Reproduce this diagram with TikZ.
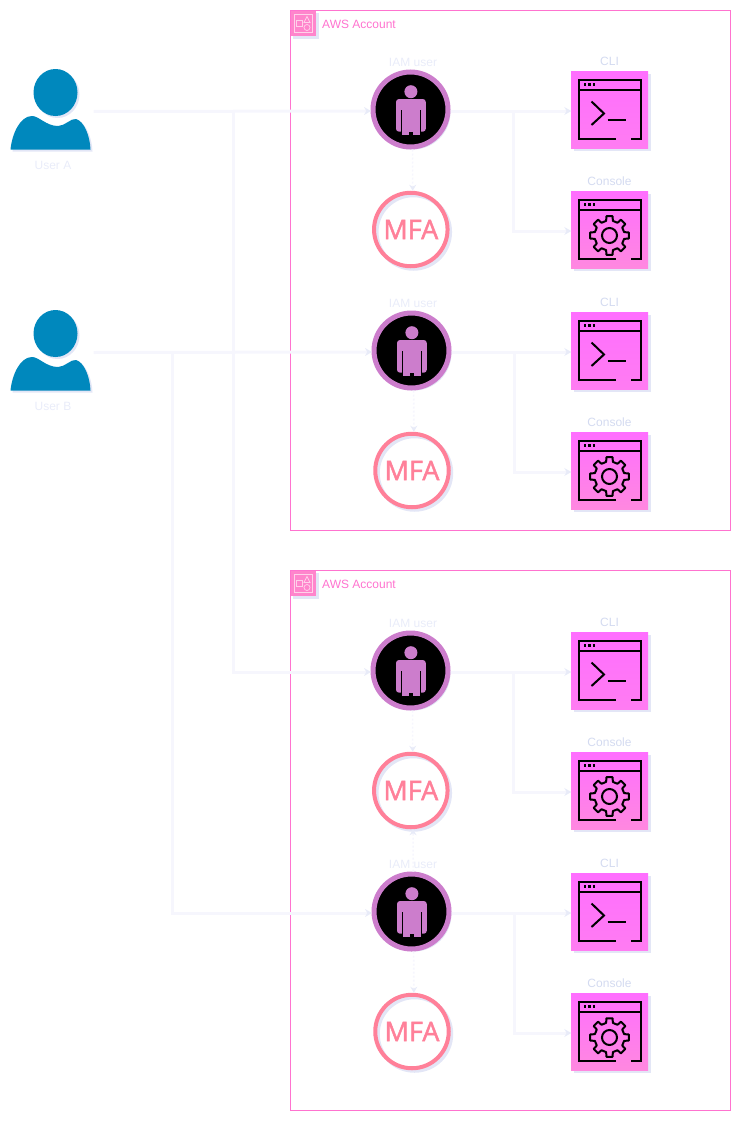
\documentclass[tikz,border=0pt]{standalone}
\usepackage{fontspec}
\setmainfont{Liberation Sans}
\newfontfamily\mfafont[FakeBold=1.8]{Open Sans}
\usetikzlibrary{arrows.meta,shadows}
\definecolor{accountpink}{HTML}{FF73CF}
\definecolor{tagpink}{HTML}{FF85CC}
\definecolor{tagline}{HTML}{FFD2EA}
\definecolor{boxpink}{HTML}{FF6EFF}
\definecolor{boxpinkcli}{HTML}{FF7CF2}
\definecolor{boxpinkcon}{HTML}{FF88E0}
\definecolor{iamring}{HTML}{CC7DCC}
\definecolor{mfapink}{HTML}{FF8099}
\definecolor{userblue}{HTML}{0088BD}
\definecolor{shadowblue}{HTML}{E3E6F6}
\definecolor{linepale}{HTML}{F6F6FD}
\definecolor{tippale}{HTML}{E8EBF8}
\definecolor{labelpale}{HTML}{D3DAF0}
\definecolor{haze}{HTML}{E9ECF9}

\begin{document}
\begin{tikzpicture}[x=1pt, y=-1pt]
    \tikzstyle{softshadow} = [drop shadow={shadow xshift=2.5pt, shadow yshift=-2.5pt, fill=shadowblue, opacity=1}]
    \tikzstyle{account} = [draw=accountpink, line width=1pt, rectangle, anchor=north west, inner sep=0pt, outer sep=0pt]
    \tikzstyle{tag} = [fill=tagpink, rectangle, minimum size=25.5pt, inner sep=0pt, outer sep=0pt, anchor=north west, softshadow]
    \tikzstyle{title} = [text=accountpink, font=\fontsize{12}{12}\selectfont, inner sep=0pt, anchor=west]
    \tikzstyle{usernode} = [rectangle, minimum width=84pt, minimum height=84pt, inner sep=0pt]
    \tikzstyle{iam} = [circle, draw=iamring, line width=5pt, fill=black, minimum size=75pt, inner sep=0pt, softshadow]
    \tikzstyle{mfa} = [circle, draw=mfapink, line width=4pt, minimum size=73.5pt, inner sep=0pt,
        preaction={draw=shadowblue, transform canvas={xshift=2.5pt, yshift=-2.5pt}},
        text=mfapink, font=\mfafont\fontsize{27}{27}\selectfont]
    \tikzstyle{clibox} = [rectangle, minimum size=77pt, inner sep=0pt, top color=boxpink, bottom color=boxpinkcli, softshadow]
    \tikzstyle{conbox} = [rectangle, minimum size=77pt, inner sep=0pt, top color=boxpink, bottom color=boxpinkcon, softshadow]
    \tikzstyle{label} = [text=labelpale, font=\fontsize{12}{12}\selectfont, inner sep=0pt]
    \tikzstyle{faint} = [text=haze, font=\fontsize{12}{12}\selectfont, inner sep=0pt]
    \tikzstyle{arrow} = [linepale, line width=3pt, -{Stealth[length=7pt,width=8pt,color=tippale]},
        transform canvas={xshift=0.5pt, yshift=-1.5pt}]
    \tikzstyle{mfaarrow} = [linepale, line width=1.6pt, dash pattern=on 2pt off 2pt, -{Stealth[length=6pt,width=7pt,color=tippale]},
        transform canvas={xshift=2pt}]
    \tikzset{
        pics/usericon/.style={code={
            \fill [shadowblue, shift={(2,2)}] (-40.5,39.5) .. controls (-39,24) and (-31,6) .. (-19,6)
                .. controls (-12,6) and (-5,16) .. (7,16)
                .. controls (14,16) and (20,8) .. (25,9)
                .. controls (33,11) and (39,26) .. (39.5,39.5) -- cycle;
            \fill [shadowblue] (6.5,-15.5) ellipse (22 and 23.5);
            \fill [userblue] (-40.5,39.5) .. controls (-39,24) and (-31,6) .. (-19,6)
                .. controls (-12,6) and (-5,16) .. (7,16)
                .. controls (14,16) and (20,8) .. (25,9)
                .. controls (33,11) and (39,26) .. (39.5,39.5) -- cycle;
            \fill [userblue] (4.5,-17.5) ellipse (22 and 23.5);
        }},
        pics/personicon/.style={code={
            \fill [iamring] (0.4,-17.8) circle (6.5);
            \fill [iamring, rounded corners=3pt] (-14.5,-10.5) rectangle (15.3,22.2);
            \fill [iamring] (-8.5,0) rectangle (9.3,25.5);
            \fill [black] (-10,0) rectangle (-8.6,26);
            \fill [black] (9.4,0) rectangle (10.8,26);
            \fill [black] (-2,22.5) rectangle (2.8,26);
        }},
        pics/windowicon/.style={code={
            \draw [line width=2pt] (6.5,29.5) -- (-31,29.5) -- (-31,-29.5) -- (31,-29.5) -- (31,29.5) -- (21.5,29.5);
            \draw [line width=2pt] (-31,-20) -- (31,-20);
            \draw [line width=2.4pt, dash pattern=on 2.4pt off 2pt] (-25.5,-25) -- (-14,-25);
        }},
        pics/clisign/.style={code={
            \draw [line width=2pt] (-18,-8) -- (-5.5,4) -- (-18,15.5);
            \draw [line width=2pt] (-2,10.5) -- (16.5,10.5);
        }},
        pics/gearsign/.style={code={
            \draw [line width=2pt, line join=round] (-13:15)
                \foreach \a in {0,45,...,315} {
                    -- ({\a-13}:15) -- ({\a-9}:19.5) -- ({\a+9}:19.5) -- ({\a+13}:15)
                } -- cycle;
            \draw [line width=2pt] (0,0) circle (7.5);
        }}
    }

    % Accounts
    \node [account, minimum width=440pt, minimum height=519.5pt] (acct1) at (290.5,10.5) {};
    \node [account, minimum width=440pt, minimum height=539.5pt] (acct2) at (290.5,570.5) {};
    \node [tag] (tag1) at (290.5,10.5) {};
    \node [tag] (tag2) at (290.5,570.5) {};
    \foreach \t in {tag1,tag2} {
        \draw [tagline, line width=0.7pt] ([shift={(4,4)}]\t.north west) rectangle ([shift={(21.5,21.5)}]\t.north west);
        \draw [tagline, line width=0.7pt] ([shift={(6,10)}]\t.north west) rectangle ([shift={(12,16)}]\t.north west);
        \draw [tagline, line width=0.7pt] ([shift={(16.5,17)}]\t.north west) circle (3);
        \draw [tagline, line width=0.7pt] ([shift={(13.5,12)}]\t.north west) -- ([shift={(19.5,12)}]\t.north west) -- ([shift={(16.5,6)}]\t.north west) -- cycle;
    }
    \node [title] (title1) at (322,24) {AWS Account};
    \node [title] (title2) at (322,584) {AWS Account};

    % Users
    \node [usernode] (usera) at (51,110) {};
    \node [usernode] (userb) at (51,351) {};
    \pic at (usera) {usericon};
    \pic at (userb) {usericon};
    \node [faint] (usera label) at (53,165) {User A};
    \node [faint] (userb label) at (53,406) {User B};

    % IAM users
    \node [iam] (iam1) at (410.5,109.5) {};
    \node [iam] (iam2) at (411.5,350.5) {};
    \node [iam] (iam3) at (410.5,670.5) {};
    \node [iam] (iam4) at (411.5,911.5) {};
    \pic at (iam1) {personicon};
    \pic at (iam2) {personicon};
    \pic at (iam3) {personicon};
    \pic at (iam4) {personicon};
    \node [faint] (iam1 label) at (413,62) {IAM user};
    \node [faint] (iam2 label) at (413,303) {IAM user};
    \node [faint] (iam3 label) at (413,623) {IAM user};
    \node [faint] (iam4 label) at (413,864) {IAM user};

    % MFA devices
    \node [mfa] (mfa1) at (410.8,229.5) {MFA};
    \node [mfa] (mfa2) at (412,470.5) {MFA};
    \node [mfa] (mfa3) at (410.8,790.5) {MFA};
    \node [mfa] (mfa4) at (412,1031.5) {MFA};

    % CLI and console boxes
    \node [clibox] (cli1) at (609.5,109.5) {};
    \node [clibox] (cli2) at (609.5,350.5) {};
    \node [clibox] (cli3) at (609.5,670.5) {};
    \node [clibox] (cli4) at (609.5,911.5) {};
    \node [conbox] (con1) at (609.5,229.5) {};
    \node [conbox] (con2) at (609.5,470.5) {};
    \node [conbox] (con3) at (609.5,790.5) {};
    \node [conbox] (con4) at (609.5,1031.5) {};
    \foreach \n in {cli1,cli2,cli3,cli4} {
        \pic at (\n) {windowicon};
        \pic at (\n) {clisign};
    }
    \foreach \n in {con1,con2,con3,con4} {
        \pic at (\n) {windowicon};
        \pic at ([yshift=-6pt]\n.center) {gearsign};
    }
    \node [label] (cli1 label) at (609.5,61) {CLI};
    \node [label] (cli2 label) at (609.5,302) {CLI};
    \node [label] (cli3 label) at (609.5,622) {CLI};
    \node [label] (cli4 label) at (609.5,863) {CLI};
    \node [label] (con1 label) at (609.5,181) {Console};
    \node [label] (con2 label) at (609.5,422) {Console};
    \node [label] (con3 label) at (609.5,742) {Console};
    \node [label] (con4 label) at (609.5,983) {Console};

    % Junctions
    \coordinate (ja) at (233,110);
    \coordinate (jb) at (172,351);
    \coordinate (j1) at (513,110);
    \coordinate (j2) at (514,351);
    \coordinate (j3) at (513,671);
    \coordinate (j4) at (514,912);

    % User connections
    \draw [arrow] (usera.east) -- (iam1.west);
    \draw [arrow] (userb.east) -- (iam2.west);
    \draw [arrow] (ja) |- (iam3.west);
    \draw [arrow] (jb) |- (iam4.west);

    % MFA connections
    \draw [mfaarrow] (iam1) -- (mfa1);
    \draw [mfaarrow] (iam2) -- (mfa2);
    \draw [mfaarrow] (iam3) -- (mfa3);
    \draw [mfaarrow] (iam4) -- (mfa3);
    \draw [mfaarrow] (iam4) -- (mfa4);

    % Access connections
    \draw [arrow] (iam1.east) -- (cli1.west);
    \draw [arrow] (iam2.east) -- (cli2.west);
    \draw [arrow] (iam3.east) -- (cli3.west);
    \draw [arrow] (iam4.east) -- (cli4.west);
    \draw [arrow] (j1) |- (con1.west);
    \draw [arrow] (j2) |- (con2.west);
    \draw [arrow] (j3) |- (con3.west);
    \draw [arrow] (j4) |- (con4.west);

    \useasboundingbox (0,0) rectangle (747,1135);
\end{tikzpicture}
\end{document}
